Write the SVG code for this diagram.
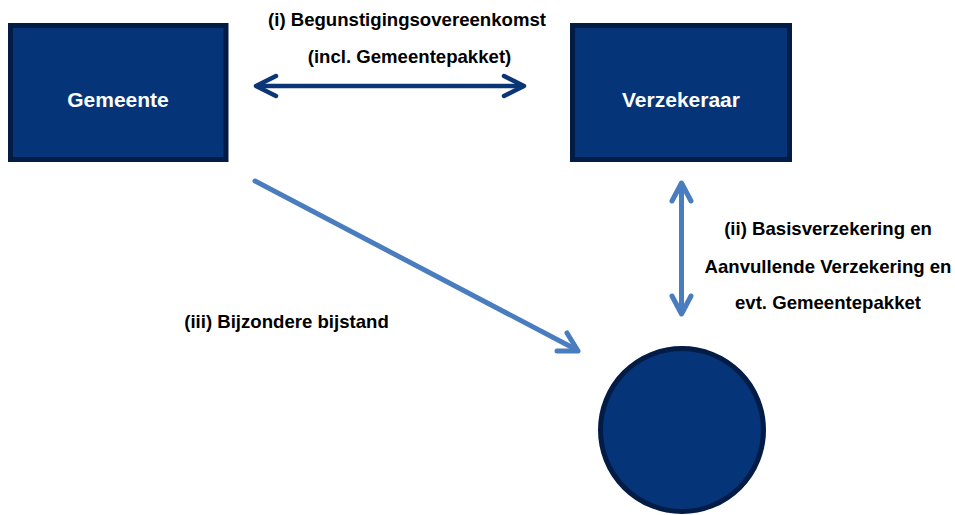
<svg xmlns="http://www.w3.org/2000/svg" width="955" height="515" viewBox="0 0 955 515">
<style>
.node{fill:#053479;stroke:#031c46;stroke-width:5}
.ntext{font-family:"Liberation Sans",Arial,sans-serif;font-weight:bold;font-size:21px;fill:#ffffff;text-anchor:middle}
.lbl{font-family:"Liberation Sans",Arial,sans-serif;font-weight:bold;font-size:18.6px;fill:#000000;text-anchor:middle}
.dark{fill:none;stroke:#0a3577;stroke-width:4.5;stroke-linecap:round;stroke-linejoin:round}
.light{fill:none;stroke:#4a7dbf;stroke-width:5;stroke-linecap:round;stroke-linejoin:round}
</style>
<rect width="955" height="515" fill="#ffffff"/>
<g id="gemeente">
<rect class="node" x="10.5" y="25.5" width="215.5" height="134"/>
<text class="ntext" x="118" y="107">Gemeente</text>
</g>
<g id="verzekeraar">
<rect class="node" x="572.5" y="25.5" width="217" height="134"/>
<text class="ntext" x="681" y="107">Verzekeraar</text>
</g>
<g id="persoon">
<circle class="node" cx="682" cy="430" r="81.5"/>
</g>
<g id="connectors">
<line class="dark" x1="257" y1="86" x2="523" y2="86"/>
<polyline class="dark" points="276,76 256,86 276,96"/>
<polyline class="dark" points="504,76 524,86 504,96"/>
<line class="light" x1="255" y1="181" x2="577" y2="350"/>
<polyline class="light" points="567,333 578,351 557,351"/>
<line class="light" x1="681.5" y1="185" x2="681.5" y2="312"/>
<polyline class="light" points="672,201 681.5,183 691,201"/>
<polyline class="light" points="672,296 681.5,314 691,296"/>
</g>
<g id="labels">
<text class="lbl" x="407" y="26">(i) Begunstigingsovereenkomst</text>
<text class="lbl" x="409.5" y="63">(incl. Gemeentepakket)</text>
<text class="lbl" x="828" y="235">(ii) Basisverzekering en</text>
<text class="lbl" x="828" y="273">Aanvullende Verzekering en</text>
<text class="lbl" x="828" y="309">evt. Gemeentepakket</text>
<text class="lbl" x="286.5" y="328">(iii) Bijzondere bijstand</text>
</g>
</svg>
